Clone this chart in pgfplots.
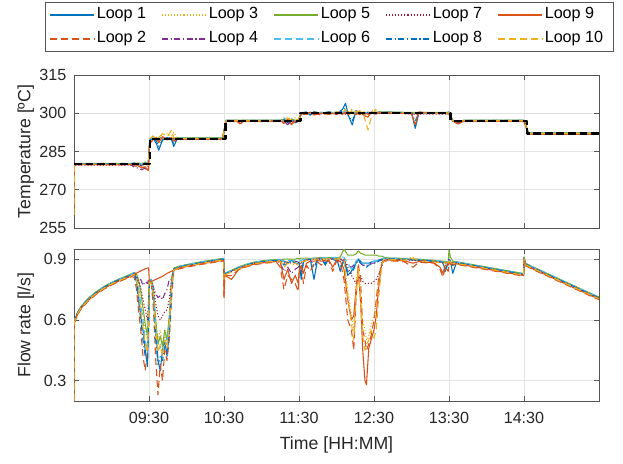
\documentclass[border=0pt]{standalone}
\usepackage{pgfplots}
\pgfplotsset{compat=1.18}
\usepackage{pgfplotstable}
\usepackage{fontspec}
\setmainfont{Liberation Sans}

\definecolor{c1}{rgb}{0,0.447,0.741}
\definecolor{c2}{rgb}{0.850,0.325,0.098}
\definecolor{c3}{rgb}{0.929,0.694,0.125}
\definecolor{c4}{rgb}{0.494,0.184,0.556}
\definecolor{c5}{rgb}{0.466,0.674,0.188}
\definecolor{c6}{rgb}{0.301,0.745,0.933}
\definecolor{c7}{rgb}{0.635,0.078,0.184}
\definecolor{axc}{rgb}{0.33,0.33,0.33}
\definecolor{txc}{rgb}{0.15,0.15,0.15}

\pgfplotstableread{
t L1 L2 L3 L4 L5 L6 L7 L8 L9 L10
8.5 .2 .2 .2 .2 .2 .2 .2 .2 .2 .2
8.503 .593 .582 .590 .592 .595 .594 .588 .591 .585 .587
8.55 .638 .627 .635 .637 .640 .639 .633 .636 .630 .632
8.6 .668 .657 .665 .667 .670 .669 .663 .666 .660 .662
8.7 .708 .697 .705 .707 .710 .709 .703 .706 .700 .702
8.8 .738 .727 .735 .737 .740 .739 .733 .736 .730 .732
8.9 .763 .752 .760 .762 .765 .764 .758 .761 .755 .757
9.0 .783 .772 .780 .782 .785 .784 .778 .781 .775 .777
9.1 .800 .789 .797 .799 .802 .801 .795 .798 .792 .794
9.2 .815 .804 .812 .814 .817 .816 .810 .813 .807 .809
9.27 .825 .814 .822 .824 .827 .826 .820 .823 .817 .819
9.30 .83 .81 .83 .83 .835 .834 .828 .831 .822 .826
9.33 .80 .76 .82 .81 .83 .82 .82 .79 .83 .80
9.36 .72 .65 .78 .78 .80 .76 .79 .70 .836 .74
9.39 .62 .55 .70 .80 .74 .68 .76 .60 .842 .64
9.42 .55 .42 .62 .77 .66 .60 .70 .50 .847 .56
9.45 .45 .35 .55 .79 .58 .50 .65 .42 .852 .48
9.48 .37 .45 .50 .78 .52 .45 .60 .40 .856 .44
9.495 .60 .55 .65 .80 .70 .62 .70 .58 .857 .62
9.505 .79 .78 .79 .79 .795 .794 .788 .791 .785 .787
9.53 .80 .78 .79 .79 .80 .80 .79 .79 .79 .78
9.56 .72 .65 .74 .76 .75 .73 .76 .70 .795 .72
9.59 .55 .40 .58 .73 .60 .56 .68 .50 .80 .55
9.62 .40 .23 .50 .71 .48 .45 .62 .38 .805 .44
9.65 .35 .38 .55 .72 .52 .47 .60 .42 .81 .48
9.68 .45 .30 .48 .70 .47 .44 .62 .40 .815 .42
9.71 .50 .45 .52 .73 .55 .50 .64 .47 .822 .50
9.74 .42 .40 .50 .75 .50 .48 .65 .45 .83 .46
9.77 .55 .50 .60 .80 .62 .58 .70 .52 .835 .56
9.80 .75 .70 .78 .80 .80 .78 .80 .74 .84 .76
9.83 .853 .842 .85 .852 .855 .854 .848 .851 .845 .847
9.9 .863 .852 .860 .862 .865 .864 .858 .861 .855 .857
10.0 .871 .860 .868 .870 .873 .872 .866 .869 .863 .865
10.1 .878 .867 .875 .877 .880 .879 .873 .876 .870 .872
10.2 .885 .874 .882 .884 .887 .886 .880 .883 .877 .879
10.3 .891 .880 .888 .890 .893 .892 .886 .889 .883 .885
10.4 .897 .886 .894 .896 .899 .898 .892 .895 .889 .891
10.495 .902 .891 .899 .901 .904 .903 .897 .900 .894 .896
10.5 .82 .70 .81 .82 .83 .82 .81 .81 .72 .80
10.51 .828 .817 .825 .827 .830 .829 .823 .826 .820 .822
10.6 .843 .82 .84 .842 .845 .844 .838 .841 .80 .837
10.7 .86 .849 .857 .859 .862 .861 .855 .858 .852 .854
10.8 .873 .862 .870 .872 .875 .874 .868 .871 .865 .867
10.9 .883 .872 .880 .882 .885 .884 .878 .881 .875 .877
11.0 .889 .878 .886 .888 .891 .890 .884 .887 .881 .883
11.1 .893 .882 .890 .892 .895 .894 .888 .891 .885 .887
11.2 .896 .885 .893 .895 .898 .897 .891 .894 .888 .890
11.25 .896 .86 .893 .88 .898 .897 .89 .894 .888 .890
11.30 .89 .75 .88 .84 .90 .89 .88 .87 .80 .86
11.35 .88 .82 .89 .86 .90 .895 .885 .88 .85 .88
11.40 .895 .80 .89 .83 .90 .89 .88 .89 .78 .87
11.45 .89 .78 .885 .85 .90 .895 .89 .88 .82 .88
11.49 .885 .74 .88 .86 .905 .89 .885 .875 .78 .87
11.505 .88 .84 .88 .87 .90 .89 .88 .87 .85 .88
11.53 .80 .86 .885 .88 .905 .895 .885 .82 .87 .885
11.56 .89 .78 .89 .89 .905 .898 .89 .89 .83 .89
11.6 .897 .87 .895 .895 .905 .90 .893 .895 .88 .893
11.65 .90 .84 .90 .90 .903 .90 .895 .90 .89 .90
11.7 .80 .88 .90 .90 .905 .905 .90 .86 .89 .90
11.75 .903 .885 .90 .902 .906 .906 .90 .90 .893 .90
11.8 .905 .87 .90 .91 .907 .906 .90 .90 .89 .90
11.85 .87 .89 .90 .905 .905 .907 .90 .88 .895 .90
11.9 .905 .89 .90 .905 .908 .908 .90 .90 .895 .902
11.95 .905 .84 .90 .905 .906 .908 .90 .90 .86 .90
12.0 .906 .89 .90 .906 .907 .908 .90 .89 .895 .90
12.05 .84 .885 .90 .90 .91 .91 .90 .86 .89 .905
12.1 .90 .80 .89 .89 .95 .91 .90 .89 .85 .90
12.15 .82 .60 .75 .87 .92 .88 .86 .84 .70 .72
12.2 .84 .55 .62 .86 .92 .85 .82 .83 .60 .58
12.23 .86 .45 .55 .87 .92 .86 .80 .85 .62 .50
12.26 .88 .70 .78 .88 .925 .89 .78 .88 .75 .72
12.29 .90 .88 .86 .89 .94 .90 .80 .90 .84 .85
12.32 .89 .80 .75 .88 .93 .89 .82 .88 .70 .70
12.35 .88 .55 .60 .87 .925 .88 .79 .87 .45 .52
12.38 .88 .50 .55 .87 .92 .88 .78 .87 .30 .45
12.40 .88 .45 .50 .87 .92 .88 .78 .86 .28 .48
12.43 .88 .48 .52 .87 .92 .88 .78 .87 .46 .50
12.46 .885 .52 .58 .88 .92 .885 .78 .875 .50 .55
12.50 .89 .60 .62 .88 .92 .89 .79 .88 .55 .51
12.53 .89 .70 .68 .885 .92 .89 .80 .88 .62 .55
12.56 .895 .80 .78 .89 .915 .895 .82 .89 .75 .70
12.6 .90 .88 .87 .895 .915 .90 .86 .895 .87 .86
12.63 .905 .89 .90 .90 .91 .905 .895 .90 .895 .90
12.7 .903 .892 .90 .902 .905 .904 .898 .901 .895 .897
12.8 .903 .890 .90 .902 .905 .904 .898 .901 .893 .897
12.9 .90 .888 .90 .90 .903 .902 .897 .90 .892 .895
13.02 .895 .86 .91 .898 .90 .90 .893 .896 .88 .905
13.1 .896 .885 .895 .897 .90 .899 .893 .896 .888 .892
13.2 .893 .882 .892 .894 .897 .896 .890 .893 .885 .889
13.3 .89 .88 .889 .891 .894 .893 .887 .89 .882 .886
13.38 .888 .85 .886 .89 .89 .89 .884 .887 .86 .884
13.42 .885 .81 .88 .886 .89 .888 .88 .884 .83 .88
13.45 .84 .86 .883 .885 .888 .887 .88 .85 .87 .882
13.49 .884 .84 .88 .884 .888 .886 .879 .883 .87 .881
13.5 .90 .88 .90 .90 .945 .90 .90 .90 .89 .90
13.52 .89 .875 .885 .887 .91 .888 .883 .887 .878 .882
13.55 .83 .87 .88 .884 .89 .885 .88 .87 .875 .88
13.6 .885 .874 .882 .884 .887 .886 .880 .883 .877 .879
13.8 .872 .861 .869 .871 .874 .873 .867 .870 .864 .866
14.0 .859 .848 .856 .858 .861 .860 .854 .857 .851 .853
14.2 .846 .835 .843 .845 .848 .847 .841 .844 .838 .840
14.4 .833 .822 .830 .832 .835 .834 .828 .831 .825 .827
14.495 .827 .816 .824 .826 .829 .828 .822 .825 .819 .821
14.5 .908 .897 .905 .907 .910 .909 .903 .906 .900 .902
14.52 .878 .867 .875 .877 .880 .879 .873 .876 .870 .872
14.6 .863 .852 .860 .862 .865 .864 .858 .861 .855 .857
14.8 .829 .818 .826 .828 .831 .830 .824 .827 .821 .823
15.0 .795 .784 .792 .794 .797 .796 .790 .793 .787 .789
15.2 .761 .750 .758 .760 .763 .762 .756 .759 .753 .755
15.4 .727 .716 .724 .726 .729 .728 .722 .725 .719 .721
15.5 .711 .700 .708 .710 .713 .712 .706 .709 .703 .705
}\flowdata

\pgfplotstableread{
t L1 L2 L3 L4 L5 L6 L7 L8 L9 L10
8.5 270 263 268 272 275 271 274 273 262 260
8.505 280.2 279.8 280.1 279.9 280.3 280 279.7 280.15 279.85 280.05
9.25 280.2 279.8 280.1 279.9 280.3 280 279.7 280.15 279.85 280.05
9.3 280.5 279.5 280 279 280.3 280.4 279.8 280.2 280 280.1
9.35 280 279 280.5 278.5 280.5 280 279.7 280.3 279.5 280
9.4 279.5 279 280.5 277.8 280 280.2 279.5 280 278.5 280.3
9.45 280.5 278.5 281 278.5 280.6 280.5 280 280.4 279 280.2
9.49 280 277 280 279 280.5 280 279.5 280 277.5 279.5
9.51 289 288 289.5 289 290 289.5 289 289 288 290
9.55 290.5 289.5 291 290 290.3 290.5 289.8 291 289.5 291
9.6 288 290 290.5 290.2 290 289.7 290.3 289 290.5 290
9.63 285.5 289 290.2 289.8 290.3 290 289.7 287 288.5 290.5
9.68 289.5 290.5 291.5 290 290.5 290.5 290 289.5 290.8 292
9.75 290.5 289.5 292 290.3 290 290.4 290 290.5 289.8 291
9.8 290 290.3 291 290 290.2 290 290.2 289.5 290.5 293.4
9.83 287 289.5 292.5 290 290.3 289.8 290 288 289 290.5
9.88 290.2 289.8 290.1 289.9 290.3 290 289.7 290.15 289.85 290.05
10.48 290.2 289.8 290.1 289.9 290.3 290 289.7 290.15 289.85 290.05
10.53 297.2 296.8 297.1 296.9 297.3 297 296.7 297.15 296.85 297.05
10.68 297.2 296.8 297.1 296.9 297.3 297 296.7 297.15 296.85 297.05
10.71 297 295.3 297.2 296.8 297.3 297.2 296.5 297 295.8 297
10.75 297.2 296.8 297.1 296.9 297.3 297 296.7 297.15 296.85 297.05
11.25 297.2 296.8 297.1 296.9 297.3 297 296.7 297.15 296.85 297.05
11.3 297.5 296 297.8 296.5 297.5 298.2 296.5 297.5 296.3 297.2
11.35 296.5 297.5 298.5 295.5 297.2 297 296 296.2 297.8 298
11.4 297.8 295.5 297.5 297 297.6 297.5 297.2 297.8 295.8 297.3
11.45 296.2 297 298.2 296.2 297.3 296.8 296.5 296.5 297 297.8
11.49 297.2 296.5 297.3 296.8 297.3 297 296.7 297.1 296.8 297
11.53 300.2 299.8 300.1 299.9 300.3 300 299.7 300.15 299.85 300.05
11.6 300.5 299.5 300.3 299.6 300.2 300.4 299.8 300.3 299.6 300.2
11.65 299.2 300.3 299.8 300.5 300 299.7 300.2 299.4 300.5 299.8
11.7 300.5 299.8 300.5 299.5 300.3 300.2 299.6 300.6 299.3 300.4
11.8 300 299.3 300.3 300.2 300.1 300.4 299.9 299.8 300 300.1
11.9 300.6 300.2 299.7 299.9 300.4 300 300.2 300.4 299.5 299.8
12.0 299.8 299.5 300.6 300.3 300.2 300.5 299.7 299.6 300.3 300.5
12.08 301.5 300.4 300.2 299.8 300.4 300.2 300 301 299.6 300.3
12.12 303.9 299.8 300.5 300.2 300.1 300.8 299.6 302 300.4 301.5
12.16 299 300.5 299.8 299.9 300.3 299.6 300.4 298.8 299.5 299
12.21 295.4 299.8 301 300.3 300.2 300.5 299.8 297 300.3 301.8
12.26 301 300.2 300.5 299.7 300.3 299.8 300.1 300.5 299.4 300.4
12.31 300.3 299.4 300.8 300.1 300.2 300.3 299.8 300.2 300.6 301
12.36 299.5 300.3 300.2 299.9 300.4 300.1 300.2 299.8 299.2 299.5
12.42 300.4 299.6 298.5 300.2 300.3 300.3 299.7 300.3 298.5 293.4
12.47 300.1 300.5 301.2 299.8 300.2 300.4 300 300 300.6 299
12.52 300.3 299.8 300.8 300.1 300.3 300 299.8 300.2 299.6 301.5
12.57 300.5 300.2 300.4 300 300.4 300.6 300.1 300.4 300.2 300.5
12.7 300.4 300.2 300.3 300.1 300.5 300.4 300 300.3 300.1 300.3
13.0 300.2 299.8 300.1 299.9 300.3 300 299.7 300.15 299.85 300.05
13.05 294.1 299 300.1 299.9 300.3 300 299.7 297 295.5 300.05
13.1 300.3 300.5 300.1 299.9 300.3 300 299.7 300.2 300.3 300.05
13.45 300.2 299.8 300.1 299.9 300.3 300 299.7 300.15 299.85 300.05
13.5 300.5 299.5 300.4 300 300.2 299.6 300 300.3 299.7 300.2
13.55 297.2 296.8 297.1 296.9 297.3 297 296.7 297.15 296.85 297.05
13.62 296.5 295.8 296.8 296.2 296.5 297 296.3 296.6 295.9 296.8
13.7 297.2 296.8 297.1 296.9 297.3 297 296.7 297.15 296.85 297.05
14.5 297.2 296.8 297.1 296.9 297.3 297 296.7 297.15 296.85 297.05
14.56 292.2 291.8 292.1 291.9 292.3 292 291.7 292.15 291.85 292.05
15.5 292.2 291.8 292.1 291.9 292.3 292 291.7 292.15 291.85 292.05
}\tempdata

\pgfplotsset{
  lp1/.style={c1, line width=0.7pt, solid},
  lp2/.style={c2, line width=0.7pt, dash pattern=on 4.5pt off 2.6pt},
  lp3/.style={c3, line width=0.7pt, dash pattern=on 0.7pt off 1.3pt},
  lp4/.style={c4, line width=0.7pt, dash pattern=on 3.8pt off 1.8pt on 0.7pt off 1.8pt},
  lp5/.style={c5, line width=0.7pt, solid},
  lp6/.style={c6, line width=0.7pt, dash pattern=on 4.5pt off 2.6pt},
  lp7/.style={c7, line width=0.7pt, dash pattern=on 0.7pt off 1.3pt},
  lp8/.style={c1, line width=0.7pt, dash pattern=on 3.8pt off 1.8pt on 0.7pt off 1.8pt},
  lp9/.style={c2, line width=0.7pt, solid},
  lp10/.style={c3, line width=0.7pt, dash pattern=on 4.5pt off 2.6pt},
  common/.style={
    scale only axis,
    width=341.25pt,
    xmin=8.5, xmax=15.5,
    xtick={9.5,10.5,11.5,12.5,13.5,14.5},
    grid=major,
    grid style={gray!22, line width=0.4pt},
    axis line style={axc, line width=0.5pt},
    tick style={axc, line width=0.5pt},
    major tick length=3.3pt,
    tick label style={font=\fontsize{10.5}{12}\selectfont, text=txc},
    label style={font=\fontsize{11.5}{13}\selectfont, text=txc},
    /pgf/number format/assume math mode=true,
    yticklabel shift=1.5pt,
    ylabel style={at={(axis description cs:-0.092,0.5)}, anchor=center},
    every axis plot/.append style={line join=round},
  },
}

\begin{document}
\begin{tikzpicture}
\begin{axis}[common,
  at={(48.1pt,-148.2pt)}, anchor=south west,
  height=99.45pt,
  ymin=255, ymax=315,
  ytick={255,270,285,300,315},
  xticklabels={},
  ylabel={Temperature [ºC]},
  legend columns=5,
  legend cell align=left,
  legend image code/.code={\draw[#1] (0pt,0pt) -- (28.6pt,0pt);},
  legend style={at={(axis description cs:-0.0552,1.4771)}, anchor=north west,
    draw=axc, line width=0.5pt, inner xsep=2.6pt, inner ysep=0.6pt,
    column sep=0pt, row sep=0.4pt,
    font=\fontsize{10.5}{12}\selectfont,
    nodes={inner xsep=1.5pt, inner ysep=2.5pt, text height=7.6pt, text depth=2.6pt, anchor=west}},
]
\addlegendimage{lp1}\addlegendentry{\makebox[40.5pt][l]{Loop 1}}
\addlegendimage{lp3}\addlegendentry{\makebox[40.5pt][l]{Loop 3}}
\addlegendimage{lp5}\addlegendentry{\makebox[40.5pt][l]{Loop 5}}
\addlegendimage{lp7}\addlegendentry{\makebox[40.5pt][l]{Loop 7}}
\addlegendimage{lp9}\addlegendentry{\makebox[40.5pt][l]{Loop 9}}
\addlegendimage{lp2}\addlegendentry{\makebox[40.5pt][l]{Loop 2}}
\addlegendimage{lp4}\addlegendentry{\makebox[40.5pt][l]{Loop 4}}
\addlegendimage{lp6}\addlegendentry{\makebox[40.5pt][l]{Loop 6}}
\addlegendimage{lp8}\addlegendentry{\makebox[40.5pt][l]{Loop 8}}
\addlegendimage{lp10}\addlegendentry{\makebox[40.5pt][l]{Loop 10}}
\addplot[lp1, forget plot] table[x=t, y=L1] {\tempdata};
\addplot[lp2, forget plot] table[x=t, y=L2] {\tempdata};
\addplot[lp3, forget plot] table[x=t, y=L3] {\tempdata};
\addplot[lp4, forget plot] table[x=t, y=L4] {\tempdata};
\addplot[lp5, forget plot] table[x=t, y=L5] {\tempdata};
\addplot[lp6, forget plot] table[x=t, y=L6] {\tempdata};
\addplot[lp7, forget plot] table[x=t, y=L7] {\tempdata};
\addplot[lp8, forget plot] table[x=t, y=L8] {\tempdata};
\addplot[lp9, forget plot] table[x=t, y=L9] {\tempdata};
\addplot[lp10, forget plot] table[x=t, y=L10] {\tempdata};
\addplot[black, line width=1.5pt, dash pattern=on 5pt off 2.5pt, forget plot] coordinates {
 (8.5,280) (9.51,280) (9.51,290) (10.52,290) (10.52,297) (11.52,297) (11.52,300)
 (13.52,300) (13.52,297) (14.54,297) (14.54,292) (15.5,292)};
\end{axis}

\begin{axis}[common,
  at={(48.1pt,-260.65pt)}, anchor=south west,
  height=98.8pt,
  ymin=0.2, ymax=0.95,
  ytick={0.3,0.6,0.9},
  yticklabels={0.3,0.6,0.9},
  xticklabels={09:30,10:30,11:30,12:30,13:30,14:30},
  xticklabel shift=4pt,
  ylabel={Flow rate [l/s]},
  xlabel={Time [HH:MM]},
  xlabel style={at={(axis description cs:0.5,-0.289)}, anchor=center},
]
\addplot[lp1] table[x=t, y=L1] {\flowdata};
\addplot[lp2] table[x=t, y=L2] {\flowdata};
\addplot[lp3] table[x=t, y=L3] {\flowdata};
\addplot[lp4] table[x=t, y=L4] {\flowdata};
\addplot[lp5] table[x=t, y=L5] {\flowdata};
\addplot[lp6] table[x=t, y=L6] {\flowdata};
\addplot[lp7] table[x=t, y=L7] {\flowdata};
\addplot[lp8] table[x=t, y=L8] {\flowdata};
\addplot[lp9] table[x=t, y=L9] {\flowdata};
\addplot[lp10] table[x=t, y=L10] {\flowdata};
\end{axis}
\path (0pt,0pt) rectangle (404.95pt,-301.6pt);
\end{tikzpicture}
\end{document}
